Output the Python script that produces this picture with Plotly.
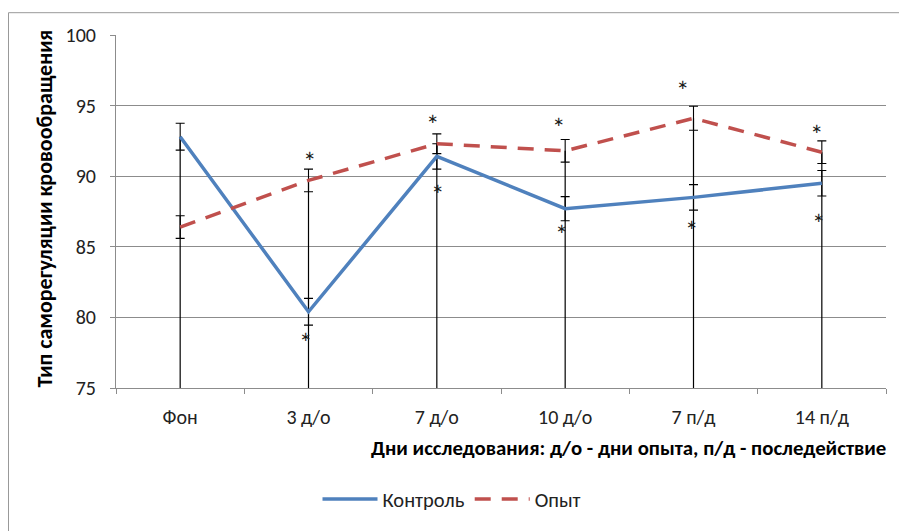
import plotly.graph_objects as go

# Study days and mean values of the circulation self-regulation type
days = ["Фон", "3 д/о", "7 д/о", "10 д/о", "7 п/д", "14 п/д"]
control = [92.8, 80.4, 91.4, 87.7, 88.5, 89.5]
control_err = [0.95, 0.95, 0.9, 0.85, 0.9, 0.9]
experiment = [86.4, 89.7, 92.3, 91.8, 94.1, 91.7]
experiment_err = [0.8, 0.8, 0.7, 0.8, 0.85, 0.8]

# Significance marks (value level of each asterisk)
star_upper = [None, 91.5, 94.1, 93.9, 96.5, 93.4]
star_lower = [None, 78.65, 89.1, 86.3, 86.6, 87.1]

y_min, y_max = 75, 100

BLUE = "#4F81BD"
RED = "#C0504D"
GRID = "#8C8C8C"
FONT = "Carlito, Lato, 'Liberation Sans Narrow', sans-serif"

# small horizontal nudges (px) of the asterisks off the drop lines
upper_dx = [0, 1, -4, -7, -11, -5]
lower_dx = [0, -3, 1, -4, -2, -3]

W, H = 899, 531
ML, MR, MT, MB = 116, 13, 35, 140
PW, PH = W - ML - MR, H - MT - MB


def px_x(px):
    return (px - ML) / PW


def px_y(py):
    return (H - MB - py) / PH


fig = go.Figure()

# Drop lines from the highest point of each day down to the category axis
drop_x, drop_y = [], []
for d, c, e in zip(days, control, experiment):
    drop_x += [d, d, None]
    drop_y += [y_min, max(c, e), None]
fig.add_trace(go.Scatter(
    x=drop_x, y=drop_y, mode="lines",
    line=dict(color="#000000", width=1.2),
    showlegend=False, hoverinfo="skip",
))

# Error bars, drawn beneath both series lines
for vals, errs in ((control, control_err), (experiment, experiment_err)):
    fig.add_trace(go.Scatter(
        x=days, y=vals, mode="markers",
        marker=dict(size=1, color="rgba(0,0,0,0)"),
        error_y=dict(type="data", array=errs, visible=True,
                     color="#000000", thickness=1.1, width=4.5),
        showlegend=False, hoverinfo="skip",
    ))

fig.add_trace(go.Scatter(
    x=days, y=control, mode="lines", name="Контроль",
    line=dict(color=BLUE, width=3.5),
))
fig.add_trace(go.Scatter(
    x=days, y=experiment, mode="lines", name="Опыт",
    line=dict(color=RED, width=3.5, dash="16px,11px"),
))

annotations = []
for d, su, sl, dxu, dxl in zip(days, star_upper, star_lower, upper_dx, lower_dx):
    for s, dx in ((su, dxu), (sl, dxl)):
        if s is None:
            continue
        annotations.append(dict(
            x=d, y=s, xref="x", yref="y", text="*", showarrow=False,
            font=dict(family=FONT, size=27, color="#1a1a1a"),
            xanchor="center", yanchor="middle", yshift=-6, xshift=dx,
        ))

# Axis titles
annotations.append(dict(
    x=1.002, y=px_y(452), xref="paper", yref="paper",
    text="<b>Дни исследования: д/о - дни опыта, п/д - последействие</b>",
    showarrow=False, xanchor="right", yanchor="middle",
    font=dict(family=FONT, size=20.8, color="#000000"),
))
annotations.append(dict(
    x=px_x(45), y=px_y(210), xref="paper", yref="paper",
    text="<b>Тип саморегуляции кровообращения</b>",
    showarrow=False, textangle=-90, xanchor="center", yanchor="middle",
    font=dict(family=FONT, size=22, color="#000000"),
))

# Chart frame
shapes = [dict(
    type="rect", xref="paper", yref="paper",
    x0=px_x(8.5), y0=px_y(545), x1=px_x(910), y1=px_y(12.5),
    line=dict(color="#999999", width=1), fillcolor="rgba(0,0,0,0)",
    layer="below",
)]

fig.update_layout(
    width=W, height=H,
    margin=dict(l=ML, r=MR, t=MT, b=MB),
    paper_bgcolor="white", plot_bgcolor="white",
    font=dict(family=FONT, size=20, color="#222222"),
    showlegend=True,
    legend=dict(
        orientation="h", x=px_x(452), y=px_y(503),
        xanchor="center", yanchor="middle",
        font=dict(family=FONT, size=20.5, color="#222222"),
        itemwidth=55, bgcolor="rgba(0,0,0,0)",
    ),
    annotations=annotations,
    shapes=shapes,
    xaxis=dict(
        type="category", categoryorder="array", categoryarray=days,
        range=[-0.5, len(days) - 0.5],
        showline=True, linecolor=GRID, linewidth=1,
        ticks="outside", tickson="boundaries", ticklen=5, tickcolor=GRID,
        showgrid=False, zeroline=False,
        ticklabelstandoff=11,
        tickfont=dict(family=FONT, size=20, color="#222222"),
    ),
    yaxis=dict(
        range=[y_min, y_max], dtick=5, tick0=75,
        showline=True, linecolor=GRID, linewidth=1,
        ticks="outside", ticklen=5, tickcolor=GRID,
        showgrid=True, gridcolor=GRID, gridwidth=1,
        zeroline=False,
        ticklabelstandoff=10,
        tickfont=dict(family=FONT, size=20, color="#222222"),
    ),
)

fig.write_html("out.html")
